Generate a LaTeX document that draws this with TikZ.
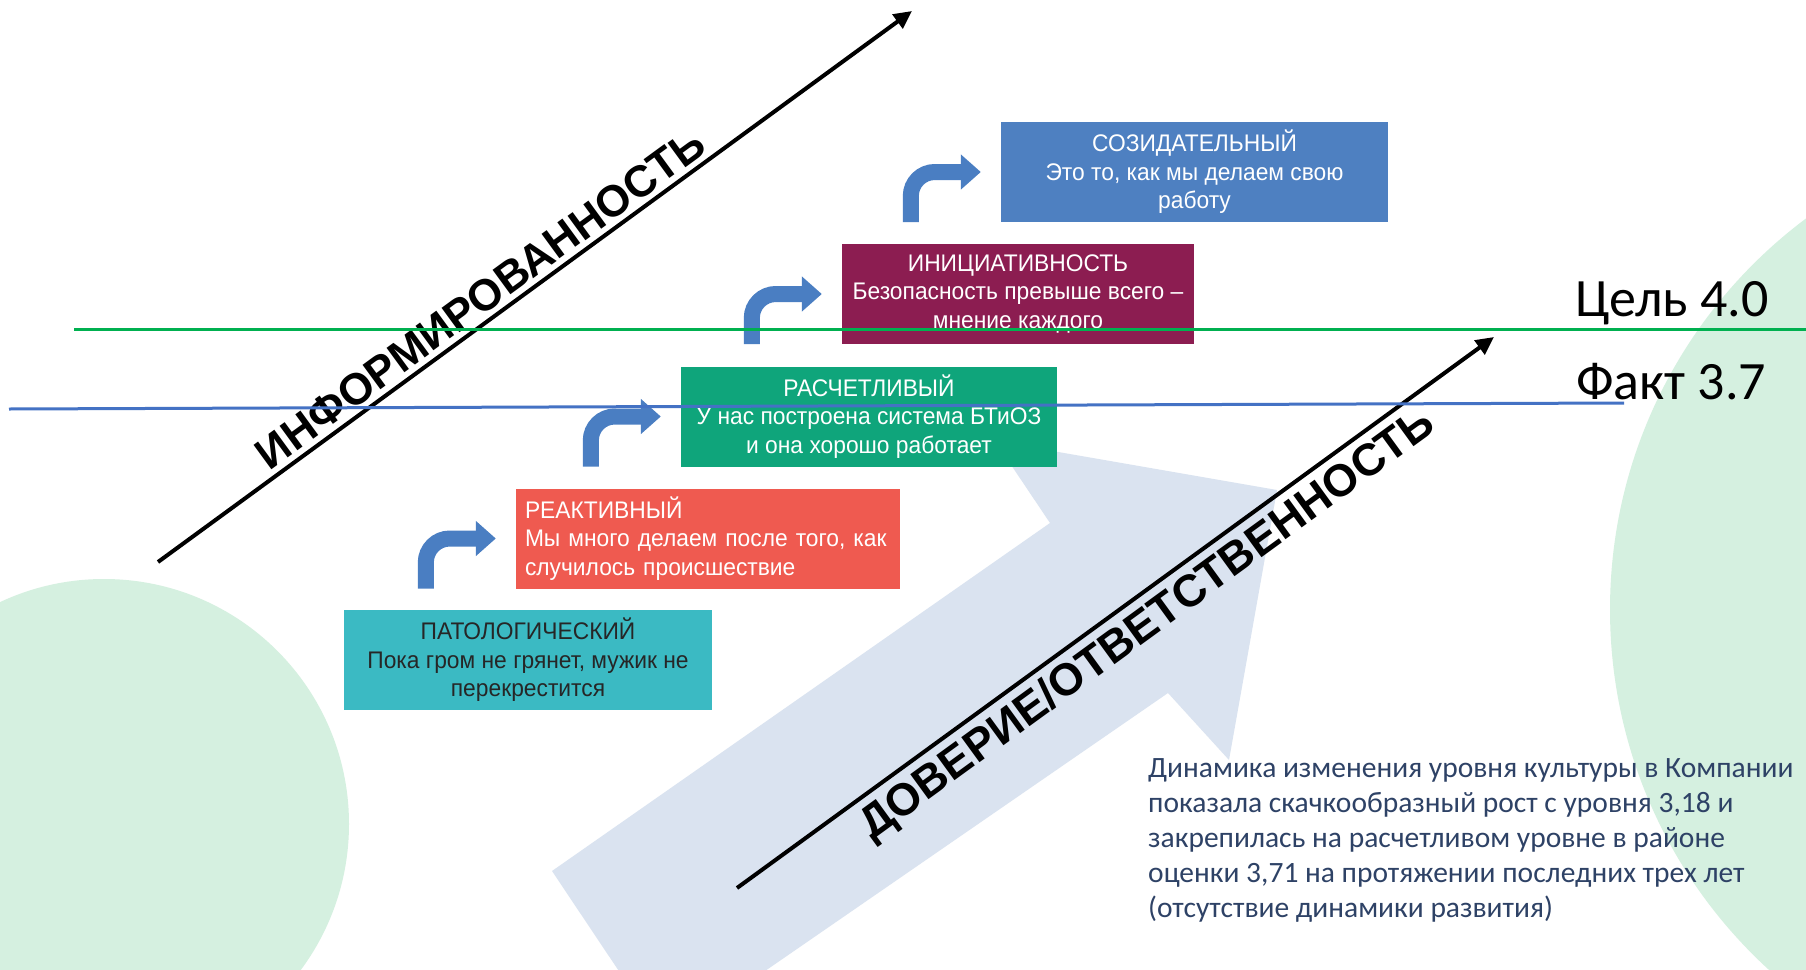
\documentclass[tikz,border=0pt]{standalone}
\usepackage{fontspec}
\setmainfont{Liberation Sans}
\newfontfamily\boxfont[FakeStretch=0.95]{Liberation Sans}
\newfontfamily\calfont{Carlito}
\usetikzlibrary{arrows.meta,calc}
\definecolor{bgreen}{HTML}{D5F0E0}
\definecolor{bigarrow}{HTML}{DAE3F0}
\definecolor{cblue}{HTML}{4E80C1}
\definecolor{cpurple}{HTML}{8C1D51}
\definecolor{cgreen}{HTML}{0FA57B}
\definecolor{cred}{HTML}{EF5A50}
\definecolor{cteal}{HTML}{3BBAC3}
\definecolor{arrowblue}{HTML}{4A7EC2}
\definecolor{linegreen}{HTML}{00B050}
\definecolor{lineblue}{HTML}{4472C4}
\definecolor{paratext}{HTML}{2E4266}
\tikzset{
  lvl/.style={inner xsep=9pt, inner ysep=0pt, minimum height=100pt, align=center,
    font=\boxfont\fontsize{24}{28.5}\selectfont, text=white},
  bentarrow/.style={draw=arrowblue, line width=16pt, rounded corners=24pt,
    -{Triangle[length=20pt,width=34pt]}},
  axisarrow/.style={draw=black, line width=4pt, -{Triangle[length=18pt,width=17pt]}},
  axislabel/.style={font=\fontsize{44}{50}\selectfont\bfseries, sloped, inner sep=5pt},
}
\begin{document}
\begin{tikzpicture}[x=1pt,y=-1pt]
\useasboundingbox (0,0) rectangle (1806,969);
\clip (0,0) rectangle (1806,969);
\fill[white] (0,0) rectangle (1806,969);
% background circles
\fill[bgreen] (104,824) circle[radius=245];
\fill[bgreen] (2098,609.5) circle[radius=488];
% big light arrow
\fill[bigarrow] (552,871) -- (1050,523) -- (995,441) -- (1277,490) -- (1229,760)
  -- (1168,693) -- (665,1040) -- cycle;
% axis arrows
\coordinate (infA) at (158,562);
\coordinate (infB) at (912,11);
\coordinate (dovA) at (737,888);
\coordinate (dovB) at (1494,337);
\draw[axisarrow] (infA) -- (infB)
  node[pos=0.445, above, axislabel] {ИНФОРМИРОВАННОСТЬ};
\draw[axisarrow] (dovA) -- (dovB)
  node[pos=0.52, below, axislabel, font=\fontsize{45}{50}\selectfont\bfseries, inner sep=7pt] {ДОВЕРИЕ/ОТВЕТСТВЕННОСТЬ};
% level boxes
\node[lvl, fill=cblue, minimum width=387pt] (blue) at (1194.5,172)
  {СОЗИДАТЕЛЬНЫЙ\\Это то, как мы делаем свою\\работу};
\node[lvl, fill=cpurple, minimum width=352pt] (purple) at (1018,294)
  {ИНИЦИАТИВНОСТЬ\\Безопасность превыше всего –\\мнение каждого};
\node[lvl, fill=cgreen, minimum width=376pt] (green) at (869,416.5)
  {РАСЧЕТЛИВЫЙ\\У нас построена система БТиОЗ\\и она хорошо работает};
\node[lvl, fill=cred, minimum width=384pt, text width=366pt, align=left] (red) at (708,538.5)
  {\mbox{РЕАКТИВНЫЙ}\\\mbox{Мы много делаем после того, как}\\\mbox{случилось происшествие}};
\node[lvl, fill=cteal, minimum width=368pt, text=black!85] (teal) at (528,660)
  {ПАТОЛОГИЧЕСКИЙ\\Пока гром не грянет, мужик не\\перекрестится};
% bent arrows
\draw[bentarrow] ($(red.south west)+(-90,0)$) |- ($(red.west)+(-20,0)$);
\draw[bentarrow] ($(green.south west)+(-90,0)$) |- ($(green.west)+(-20,0)$);
\draw[bentarrow] ($(purple.south west)+(-90,0)$) |- ($(purple.west)+(-20,0)$);
\draw[bentarrow] ($(blue.south west)+(-90,0)$) |- ($(blue.west)+(-20,0)$);
% target / fact lines
\coordinate (gA) at (74,329);
\coordinate (gB) at (1806,329);
\coordinate (bA) at (9,409);
\coordinate (bB) at (1624,403);
\draw[linegreen, line width=3pt] (gA) -- (gB);
\draw[lineblue, line width=3pt] (bA) -- (bB);
\node[anchor=base west, inner sep=0, font=\calfont\fontsize{54}{60}\selectfont] (goal) at (1575,316) {Цель 4.0};
\node[anchor=base west, inner sep=0, font=\calfont\fontsize{54}{60}\selectfont] (fact) at (1576,399) {Факт 3.7};
% paragraph
\node[anchor=north west, inner sep=0, align=left, text=paratext,
  font=\calfont\fontsize{29.5}{35.1}\selectfont] (para) at (1148,758)
  {Динамика изменения уровня культуры в Компании\\
   показала скачкообразный рост с уровня 3,18 и\\
   закрепилась на расчетливом уровне в районе\\
   оценки 3,71 на протяжении последних трех лет\\
   (отсутствие динамики развития)};
\end{tikzpicture}
\end{document}
